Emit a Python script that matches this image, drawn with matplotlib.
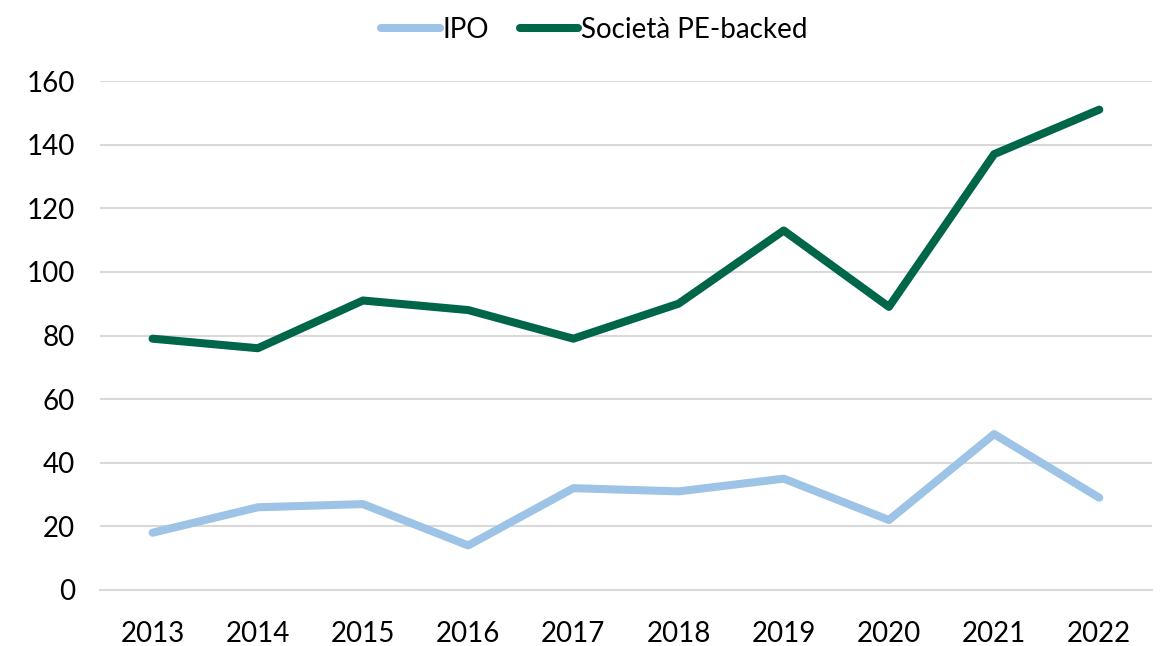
import matplotlib
matplotlib.use('Agg')
import matplotlib.pyplot as plt

years = [2013, 2014, 2015, 2016, 2017, 2018, 2019, 2020, 2021, 2022]
ipo = [18, 26, 27, 14, 32, 31, 35, 22, 49, 29]
pe_backed = [79, 76, 91, 88, 79, 90, 113, 89, 137, 151]

plt.rcParams['font.family'] = ['Lato', 'DejaVu Sans']

fig = plt.figure(figsize=(11.6, 6.46), dpi=100)
ax = fig.add_axes([0.0862, 0.0867, 0.9068, 0.7879])

ax.plot(years, ipo, color='#9DC3E6', lw=5.8, solid_capstyle='round', label='IPO')
ax.plot(years, pe_backed, color='#00664A', lw=5.8, solid_capstyle='round', label='Società PE-backed')

ax.set_xlim(2012.5, 2022.5)
ax.set_ylim(0, 160)
ax.set_xticks(years)
ax.set_xticklabels([str(y) for y in years])
ax.set_yticks(range(0, 161, 20))
ax.grid(axis='y', color='#D9D9D9', lw=1.5)
ax.set_axisbelow(True)
for s in ['top', 'right', 'left']:
    ax.spines[s].set_visible(False)
ax.spines['bottom'].set_color('#D9D9D9')
ax.spines['bottom'].set_linewidth(1.5)
ax.tick_params(axis='both', length=0, labelsize=20, colors='black')
ax.tick_params(axis='x', pad=22)
ax.tick_params(axis='y', pad=18)

ax.legend(loc='upper center', bbox_to_anchor=(0.47, 1.175), ncol=2, frameon=False,
          fontsize=20, handlelength=2.1, handletextpad=0.1, columnspacing=1.1)

fig.savefig('out.png', dpi=100)
